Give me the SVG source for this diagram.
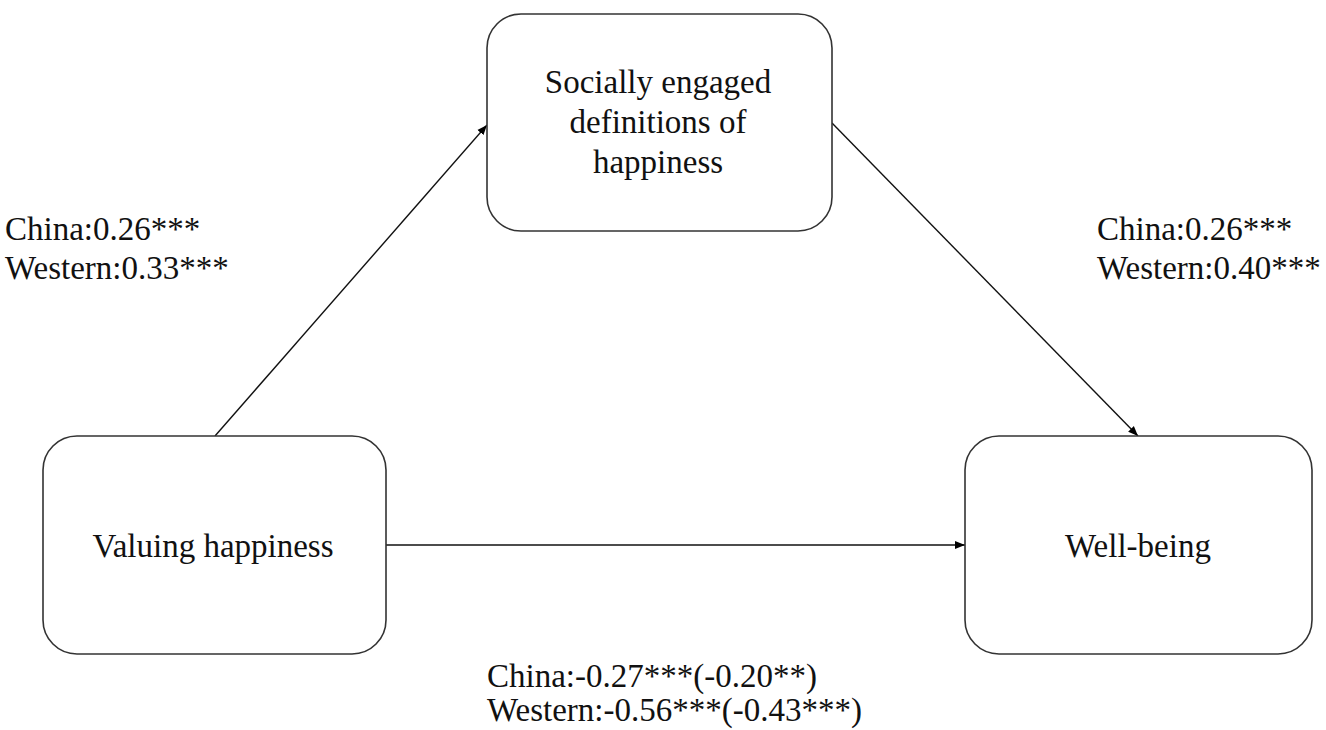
<svg xmlns="http://www.w3.org/2000/svg" width="1326" height="730" viewBox="0 0 1326 730">
<style>
.box{fill:#fff;stroke:#333;stroke-width:1.6}
.t{font-family:"Liberation Serif","Times New Roman",serif;font-size:33px;fill:#111}
.c{text-anchor:middle}
.edge{stroke:#111;stroke-width:1.4;fill:none;marker-end:url(#ah)}
</style>
<defs>
<marker id="ah" viewBox="0 0 10 10" refX="10" refY="5" markerWidth="10" markerHeight="10" markerUnits="userSpaceOnUse" orient="auto">
<path d="M0,1 L10,5 L0,9 z" fill="#000"/>
</marker>
</defs>
<rect width="1326" height="730" fill="#fff"/>
<g id="connectors">
<line class="edge" x1="215" y1="436" x2="487" y2="125"/>
<line class="edge" x1="832" y1="123" x2="1138" y2="436"/>
<line class="edge" x1="386" y1="545" x2="965" y2="545"/>
</g>
<g id="node-social">
<rect class="box" x="487" y="14" width="345" height="217" rx="34"/>
<text class="t c" x="658" y="93">Socially engaged</text>
<text class="t c" x="658" y="133">definitions of</text>
<text class="t c" x="658" y="173">happiness</text>
</g>
<g id="node-valuing">
<rect class="box" x="43" y="436" width="343" height="218" rx="34"/>
<text class="t c" x="213" y="557">Valuing happiness</text>
</g>
<g id="node-wellbeing">
<rect class="box" x="965" y="436" width="347" height="218" rx="34"/>
<text class="t c" x="1138" y="557">Well-being</text>
</g>
<g id="labels">
<text class="t" x="5" y="240">China:0.26***</text>
<text class="t" x="5" y="279">Western:0.33***</text>
<text class="t" x="1097" y="240">China:0.26***</text>
<text class="t" x="1097" y="279">Western:0.40***</text>
<text class="t" x="487" y="687">China:-0.27***(-0.20**)</text>
<text class="t" x="487" y="721">Western:-0.56***(-0.43***)</text>
</g>
</svg>
